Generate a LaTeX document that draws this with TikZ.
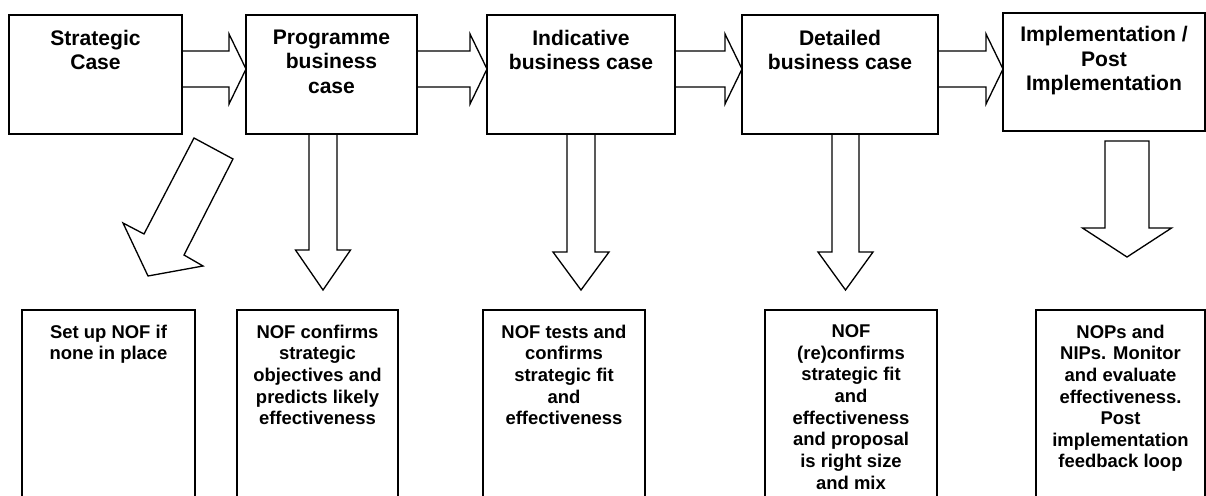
\documentclass[tikz,border=0pt]{standalone}
\usepackage{fontspec}
\setmainfont{Liberation Sans}
\usetikzlibrary{calc}
\usetikzlibrary{positioning}

% block arrow pointing right, from box #1 to box #2
\newcommand{\rightblock}[2]{%
  \coordinate (s) at (#1.east |- 0,69);
  \coordinate (t) at (#2.west |- 0,69);
  \draw[blockarrow] ($(s)+(0,-18)$) -- ($(t)+(-17,-18)$) -- ($(t)+(-17,-35)$) -- (t)
        -- ($(t)+(-17,35)$) -- ($(t)+(-17,18)$) -- ($(s)+(0,18)$) -- cycle;}
% block arrow pointing down: top, tip, shaft half width, head half width, head length
\newcommand{\downblock}[5]{%
  \draw[blockarrow] ($(#1)+(-#3,0)$) -- ($(#2)+(-#3,-#5)$) -- ($(#2)+(-#4,-#5)$) -- (#2)
        -- ($(#2)+(#4,-#5)$) -- ($(#2)+(#3,-#5)$) -- ($(#1)+(#3,0)$) -- cycle;}

\begin{document}
\begin{tikzpicture}[x=0.02cm,y=-0.02cm,
    stage/.style={draw,line width=1pt,outer sep=0pt,minimum height=2.38cm},
    task/.style={draw,line width=1pt,outer sep=0pt,minimum height=4.4cm},
    stagetxt/.style={align=center,inner sep=0pt,font=\fontsize{12}{14}\selectfont\bfseries},
    tasktxt/.style={align=center,inner sep=0pt,font=\fontsize{10.5}{12.3}\selectfont\bfseries},
    blockarrow/.style={draw,line width=0.75pt,line join=miter}]
  \useasboundingbox (0,0) rectangle (1206,496);
  \clip (0,0) rectangle (1206,496);

  % stages along the top
  \node[stage,minimum width=3.46cm] (strat) at (95.5,74.5) {};
  \node[stage,minimum width=3.42cm] (prog)  at (331.5,74.5) {};
  \node[stage,minimum width=3.76cm] (ind)   at (581,74.5) {};
  \node[stage,minimum width=3.92cm] (det)   at (840,74.5) {};
  \node[stage,minimum width=4.04cm,minimum height=2.36cm] (impl) at (1104,72) {};

  \node[stagetxt,below=0.29cm of strat.north] (strat-t) {Strategic\\Case};
  \node[stagetxt,below=0.29cm of prog.north]  (prog-t)  {Programme\\business\\case};
  \node[stagetxt,below=0.29cm of ind.north]   (ind-t)   {Indicative\\business case};
  \node[stagetxt,below=0.29cm of det.north]   (det-t)   {Detailed\\business case};
  \node[stagetxt,below=0.26cm of impl.north]  (impl-t)  {Implementation /\\Post\\Implementation};

  % NOF tasks along the bottom
  \node[task,minimum width=3.46cm] (setup)   at (108.5,420) {};
  \node[task,minimum width=3.22cm] (confirm) at (317.5,420) {};
  \node[task,minimum width=3.24cm] (tests)   at (564,420) {};
  \node[task,minimum width=3.44cm] (reconf)  at (851,420) {};
  \node[task,minimum width=3.38cm] (monitor) at (1120.5,420) {};

  \node[tasktxt,below=0.29cm of setup.north]   (setup-t)   {Set up NOF if\\none in place};
  \node[tasktxt,below=0.29cm of confirm.north] (confirm-t) {NOF confirms\\strategic\\objectives and\\predicts likely\\effectiveness};
  \node[tasktxt,below=0.29cm of tests.north]   (tests-t)   {NOF tests and\\confirms\\strategic fit\\and\\effectiveness};
  \node[tasktxt,below=0.29cm of reconf.north]  (reconf-t)  {NOF\\(re)confirms\\strategic fit\\and\\effectiveness\\and proposal\\is right size\\and mix};
  \node[tasktxt,below=0.29cm of monitor.north] (monitor-t) {NOPs and\\NIPs. Monitor\\and evaluate\\effectiveness.\\Post\\implementation\\feedback loop};

  % arrows between stages
  \rightblock{strat}{prog}
  \rightblock{prog}{ind}
  \rightblock{ind}{det}
  \rightblock{det}{impl}

  % arrows down to the tasks
  \draw[blockarrow] (194,138) -- (233,159) -- (184,255) -- (203,266) -- (148,276)
        -- (123,223) -- (144,234) -- cycle;
  \coordinate (prog-top) at ($(prog.south)+(-8.5,0)$);
  \coordinate (prog-tip) at ($(confirm.north)+(5.5,-20)$);
  \downblock{prog-top}{prog-tip}{14}{27.5}{40}
  \coordinate (ind-top) at (ind.south);
  \coordinate (ind-tip) at ($(tests.north)+(17,-20)$);
  \downblock{ind-top}{ind-tip}{14}{28}{38}
  \coordinate (det-top) at ($(det.south)+(5.5,0)$);
  \coordinate (det-tip) at ($(reconf.north)+(-5.5,-20)$);
  \downblock{det-top}{det-tip}{13.5}{27.5}{38}
  \coordinate (impl-top) at ($(impl.south)+(23,10)$);
  \coordinate (impl-tip) at ($(monitor.north)+(6.5,-53)$);
  \downblock{impl-top}{impl-tip}{22}{44.5}{29}
\end{tikzpicture}
\end{document}
